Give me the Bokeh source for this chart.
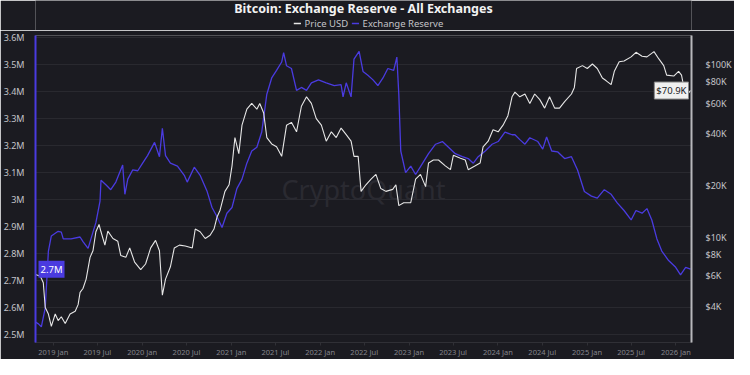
import pandas as pd
from bokeh.plotting import figure
from bokeh.layouts import column
from bokeh.models import (Range1d, LogScale, LogAxis, FixedTicker,
                          CustomJSTickFormatter, Label)
from bokeh.core.properties import value
from bokeh.embed import file_html
from bokeh.resources import INLINE

# ---------------- data ----------------
reserve_dates = [
    "2018-10-20", "2018-11-01", "2018-11-13", "2018-11-29", "2018-12-12", "2018-12-24",
    "2019-01-21", "2019-02-03", "2019-02-11", "2019-03-15", "2019-04-21", "2019-05-03",
    "2019-05-24", "2019-06-13", "2019-06-25", "2019-07-12", "2019-07-16", "2019-08-05",
    "2019-08-25", "2019-09-15", "2019-10-13", "2019-10-22", "2019-11-03", "2019-11-23",
    "2019-12-14", "2020-01-03", "2020-01-23", "2020-02-21", "2020-03-12", "2020-03-24",
    "2020-04-06", "2020-04-26", "2020-05-25", "2020-06-22", "2020-07-04", "2020-08-02",
    "2020-08-26", "2020-09-24", "2020-10-14", "2020-11-04", "2020-11-24", "2020-12-14",
    "2021-01-04", "2021-01-24", "2021-02-14", "2021-03-06", "2021-03-26", "2021-04-16",
    "2021-05-06", "2021-05-27", "2021-06-16", "2021-07-06", "2021-07-27", "2021-08-04",
    "2021-08-16", "2021-09-05", "2021-09-26", "2021-10-16", "2021-11-06", "2021-11-26",
    "2021-12-25", "2022-01-26", "2022-02-28", "2022-03-28", "2022-04-05", "2022-04-18",
    "2022-05-08", "2022-05-20", "2022-06-10", "2022-06-26", "2022-07-16", "2022-08-06",
    "2022-08-26", "2022-09-16", "2022-10-06", "2022-10-30", "2022-11-12", "2022-11-20",
    "2022-11-28", "2022-12-18", "2023-01-08", "2023-01-28", "2023-02-26", "2023-03-22",
    "2023-04-20", "2023-05-18", "2023-06-12", "2023-07-10", "2023-08-08", "2023-09-01",
    "2023-09-22", "2023-10-12", "2023-11-10", "2023-12-08", "2024-01-02", "2024-01-30",
    "2024-02-28", "2024-03-11", "2024-03-31", "2024-04-21", "2024-05-11", "2024-06-13",
    "2024-07-03", "2024-07-19", "2024-08-09", "2024-09-02", "2024-10-01", "2024-10-29",
    "2024-11-23", "2024-12-21", "2025-01-19", "2025-02-12", "2025-03-13", "2025-04-10",
    "2025-05-05", "2025-06-02", "2025-07-01", "2025-07-21", "2025-08-15", "2025-09-04",
    "2025-09-24", "2025-10-15", "2025-11-04", "2025-12-02", "2025-12-31", "2026-01-20",
    "2026-02-10", "2026-03-02",
]
reserve_m = [
    2.548, 2.541, 2.530, 2.600, 2.810, 2.866,
    2.883, 2.880, 2.855, 2.855, 2.862, 2.845,
    2.820, 2.880, 2.915, 2.995, 3.072, 3.055,
    3.037, 3.065, 3.128, 3.020, 3.076, 3.110,
    3.107, 3.135, 3.163, 3.212, 3.159, 3.264,
    3.163, 3.135, 3.124, 3.090, 3.065, 3.120,
    3.090, 3.030, 2.971, 2.936, 2.897, 2.950,
    2.971, 3.041, 3.076, 3.135, 3.180, 3.194,
    3.250, 3.390, 3.450, 3.478, 3.509, 3.544,
    3.495, 3.485, 3.404, 3.415, 3.404, 3.432,
    3.443, 3.432, 3.422, 3.425, 3.380, 3.432,
    3.380, 3.520, 3.548, 3.474, 3.460, 3.443,
    3.422, 3.450, 3.485, 3.478, 3.527, 3.390,
    3.180, 3.100, 3.124, 3.093, 3.135, 3.170,
    3.205, 3.215, 3.194, 3.170, 3.159, 3.152,
    3.135, 3.159, 3.180, 3.205, 3.215, 3.250,
    3.240, 3.240, 3.222, 3.205, 3.229, 3.215,
    3.187, 3.232, 3.180, 3.177, 3.152, 3.159,
    3.110, 3.030, 3.013, 3.006, 3.037, 3.020,
    2.988, 2.960, 2.925, 2.960, 2.950, 2.967,
    2.925, 2.855, 2.810, 2.775, 2.750, 2.722,
    2.750, 2.743,
]

price_dates = [
    "2018-10-20", "2018-11-09", "2018-11-21", "2018-11-29", "2018-12-12", "2018-12-24",
    "2019-01-09", "2019-01-21", "2019-02-03", "2019-02-19", "2019-03-11", "2019-04-01",
    "2019-04-13", "2019-04-21", "2019-05-03", "2019-05-16", "2019-06-01", "2019-06-13",
    "2019-06-25", "2019-07-08", "2019-07-16", "2019-08-01", "2019-08-13", "2019-09-03",
    "2019-09-23", "2019-10-05", "2019-10-26", "2019-11-11", "2019-12-01", "2019-12-26",
    "2020-01-15", "2020-02-05", "2020-02-25", "2020-03-12", "2020-03-24", "2020-04-06",
    "2020-04-26", "2020-05-12", "2020-06-02", "2020-06-26", "2020-07-25", "2020-08-06",
    "2020-08-26", "2020-09-16", "2020-10-06", "2020-10-22", "2020-11-04", "2020-11-16",
    "2020-12-06", "2020-12-23", "2021-01-04", "2021-01-16", "2021-02-01", "2021-02-14",
    "2021-03-06", "2021-03-26", "2021-04-16", "2021-04-28", "2021-05-14", "2021-05-27",
    "2021-06-16", "2021-07-06", "2021-07-27", "2021-08-16", "2021-09-05", "2021-09-26",
    "2021-10-16", "2021-11-06", "2021-11-26", "2021-12-16", "2022-01-06", "2022-01-26",
    "2022-02-16", "2022-03-08", "2022-03-28", "2022-04-18", "2022-05-08", "2022-05-20",
    "2022-06-06", "2022-06-18", "2022-07-08", "2022-07-29", "2022-08-18", "2022-09-07",
    "2022-09-28", "2022-10-26", "2022-11-08", "2022-11-20", "2022-12-10", "2023-01-08",
    "2023-01-28", "2023-02-17", "2023-03-10", "2023-03-22", "2023-04-11", "2023-05-02",
    "2023-05-30", "2023-06-20", "2023-07-02", "2023-07-31", "2023-08-20", "2023-09-01",
    "2023-09-30", "2023-10-20", "2023-11-01", "2023-11-22", "2023-12-12", "2024-01-02",
    "2024-01-22", "2024-02-11", "2024-02-28", "2024-03-11", "2024-03-31", "2024-04-21",
    "2024-05-11", "2024-05-31", "2024-06-21", "2024-07-11", "2024-07-31", "2024-08-21",
    "2024-09-10", "2024-10-01", "2024-10-29", "2024-11-10", "2024-11-19", "2024-12-13",
    "2025-01-02", "2025-01-23", "2025-02-12", "2025-03-05", "2025-03-21", "2025-04-10",
    "2025-04-23", "2025-05-13", "2025-06-02", "2025-07-01", "2025-07-21", "2025-08-15",
    "2025-09-04", "2025-10-03", "2025-10-23", "2025-11-12", "2025-11-24", "2025-12-23",
    "2026-01-12", "2026-01-24", "2026-02-10", "2026-03-02",
]
price_k = [
    6.12, 5.97, 5.47, 3.94, 3.61, 3.06,
    3.61, 3.31, 3.48, 3.18, 3.61, 3.75,
    4.09, 4.82, 5.07, 5.75, 7.68, 8.38,
    10.8, 11.9, 10.8, 9.04, 10.9, 9.87,
    9.51, 7.88, 7.68, 8.71, 7.21, 6.52,
    7.03, 8.71, 9.63, 8.38, 4.64, 5.75,
    6.77, 8.71, 9.04, 8.93, 8.71, 11.2,
    10.8, 9.87, 10.3, 11.2, 13.2, 14.4,
    18.5, 20.2, 26.0, 37.9, 30.6, 44.7,
    55.3, 59.7, 55.3, 59.7, 52.6, 37.9,
    34.8, 33.5, 29.5, 44.7, 46.4, 40.9,
    57.5, 65.2, 59.7, 48.8, 44.7, 36.1,
    40.9, 37.9, 43.0, 39.4, 36.1, 29.5,
    29.5, 18.5, 20.2, 21.8, 23.2, 19.2,
    18.5, 19.0, 20.2, 15.3, 15.9, 15.9,
    21.8, 23.2, 19.7, 27.0, 28.1, 28.1,
    26.0, 24.7, 29.9, 28.8, 28.1, 24.7,
    26.0, 27.0, 33.5, 36.1, 42.0, 40.9,
    44.7, 50.7, 65.2, 69.4, 65.2, 67.7,
    59.7, 67.7, 62.8, 56.1, 65.2, 56.1,
    56.1, 61.2, 67.7, 73.9, 95.1, 98.8,
    95.1, 101.0, 95.1, 83.8, 80.7, 76.7,
    91.6, 104.0, 105.0, 111.0, 118.0, 112.0,
    111.0, 119.0, 108.0, 98.8, 87.1, 86.0,
    91.6, 87.1, 65.2, 70.9,
]

reserve_ticks_m = [2.5, 2.6, 2.7, 2.8, 2.9, 3.0, 3.1, 3.2, 3.3, 3.4, 3.5, 3.6]
price_ticks_k = [4, 6, 8, 10, 20, 40, 60, 80, 100]
x_tick_dates = [
    "2019-01-01", "2019-07-01", "2020-01-01", "2020-07-01", "2021-01-01", "2021-07-01",
    "2022-01-01", "2022-07-01", "2023-01-01", "2023-07-01", "2024-01-01", "2024-07-01",
    "2025-01-01", "2025-07-01", "2026-01-01",
]

title_text = "Bitcoin: Exchange Reserve - All Exchanges"
series_names = ["Price USD", "Exchange Reserve"]

# ---------------- styling ----------------
BG = "#1b1b21"
PURPLE = "#4a3be0"
WHITE = "#e6e6e6"
FONT = "Noto Sans"
W = 734
HEAD_H = 30
MAIN_H = 329

r_x = pd.to_datetime(reserve_dates)
r_y = [v * 1e6 for v in reserve_m]
p_x = pd.to_datetime(price_dates)
p_y = [v * 1e3 for v in price_k]

x_start = pd.Timestamp("2018-10-20")
x_end = pd.Timestamp("2026-03-06")
y_lo, y_hi = 2.472e6, 3.607e6
pr_lo, pr_hi = 2470, 147600

# ---------------- header: title + legend ----------------
h = figure(width=W, height=HEAD_H, x_range=Range1d(0, W), y_range=Range1d(0, HEAD_H),
           output_backend="svg", toolbar_location=None,
           x_axis_location=None, y_axis_location=None,
           min_border=0, min_border_left=0, min_border_right=0,
           min_border_top=0, min_border_bottom=0)
h.background_fill_color = BG
h.border_fill_color = BG
h.outline_line_color = None
h.grid.visible = False

h.text(x=[W / 2], y=[HEAD_H - 8], text=[title_text], text_align="center",
       text_baseline="middle", text_font=value(FONT), text_font_size="12.5px",
       text_font_style="bold", text_color="#f2f2f2")
# legend entries: (swatch start, colour, label)
leg = [(289, WHITE, series_names[0]), (354, PURPLE, series_names[1])]
for x0, col, name in leg:
    h.segment(x0=[x0], y0=[7], x1=[x0 + 8], y1=[7], line_color=col, line_width=1.5)
    h.text(x=[x0 + 12], y=[7], text=[name], text_align="left",
           text_baseline="middle", text_font=value(FONT),
           text_font_size="9.5px", text_color="#c4c4c8")

# ---------------- main chart ----------------
p = figure(width=W, height=MAIN_H, x_axis_type="datetime",
           x_range=Range1d(x_start, x_end), y_range=Range1d(y_lo, y_hi),
           output_backend="svg", toolbar_location=None,
           min_border_left=34, min_border_right=39,
           min_border_top=5, min_border_bottom=14)
p.extra_y_ranges = {"price": Range1d(pr_lo, pr_hi)}
p.extra_y_scales = {"price": LogScale()}

p.background_fill_color = BG
p.border_fill_color = BG
p.outline_line_color = None

p.xgrid.grid_line_color = None
p.ygrid.grid_line_color = "#29292f"
p.ygrid.grid_line_width = 1

la = p.yaxis[0]
la.ticker = FixedTicker(ticks=[v * 1e6 for v in reserve_ticks_m])
la.formatter = CustomJSTickFormatter(code="""
    const v = Math.round(tick / 1e5) / 10;
    return (v % 1 === 0 ? v.toFixed(0) : v.toFixed(1)) + 'M';
""")
la.axis_line_color = PURPLE
la.axis_line_width = 2
la.major_tick_line_color = None
la.minor_tick_line_color = None
la.major_label_text_color = "#c4c4c8"
la.major_label_text_font = FONT
la.major_label_text_font_size = "9px"
la.major_label_standoff = 5

ba = p.xaxis[0]
ba.ticker = FixedTicker(ticks=[pd.Timestamp(d).timestamp() * 1000 for d in x_tick_dates])
ba.formatter = CustomJSTickFormatter(code="""
    const d = new Date(tick);
    return d.getUTCFullYear() + ' ' + (d.getUTCMonth() < 6 ? 'Jan' : 'Jul');
""")
ba.axis_line_color = "#303036"
ba.major_tick_line_color = "#303036"
ba.major_tick_in = 0
ba.major_tick_out = 3
ba.minor_tick_line_color = None
ba.major_label_text_color = "#85858c"
ba.major_label_text_font = FONT
ba.major_label_text_font_size = "7.5px"
ba.major_label_standoff = 1

ra = LogAxis(y_range_name="price")
ra.ticker = FixedTicker(ticks=[v * 1e3 for v in price_ticks_k])
ra.formatter = CustomJSTickFormatter(code="return '$' + Math.round(tick / 1000) + 'K';")
ra.axis_line_color = "#b8b8bc"
ra.axis_line_width = 2
ra.major_tick_line_color = None
ra.minor_tick_line_color = None
ra.major_label_text_color = "#c4c4c8"
ra.major_label_text_font = FONT
ra.major_label_text_font_size = "9px"
ra.major_label_standoff = 8
p.add_layout(ra, "right")

x_mid = (x_start.timestamp() + x_end.timestamp()) / 2 * 1000
p.add_layout(Label(x=x_mid, y=(y_lo + y_hi) / 2, text="CryptoQuant",
                   text_align="center", text_baseline="middle",
                   text_font=FONT, text_font_size="27px",
                   text_color="#2a2a31", level="underlay"))

p.line(r_x, r_y, line_color=PURPLE, line_width=1.3)
p.line(p_x, p_y, y_range_name="price", line_color=WHITE, line_width=1.1)

x0_ms = x_start.timestamp() * 1000
x1_ms = x_end.timestamp() * 1000

# last-value tags, inside the frame next to their axes
p.add_layout(Label(x=x0_ms, y=r_y[-1], x_offset=3,
                   text=f"{reserve_m[-1]:.1f}M", text_align="left",
                   text_baseline="middle", text_font=FONT, text_font_size="9.5px",
                   text_color="#ffffff", background_fill_color=PURPLE,
                   padding=2))
p.add_layout(Label(x=x1_ms, y=p_y[-1], y_range_name="price", x_offset=-3,
                   text=f"${price_k[-1]:.1f}K", text_align="right",
                   text_baseline="middle", text_font=FONT, text_font_size="9.5px",
                   text_color="#202024", background_fill_color="#f0f0f0",
                   border_line_color="#888888", padding=2))

layout = column(h, p, spacing=0)
open("out.html", "w").write(file_html(layout, INLINE))
